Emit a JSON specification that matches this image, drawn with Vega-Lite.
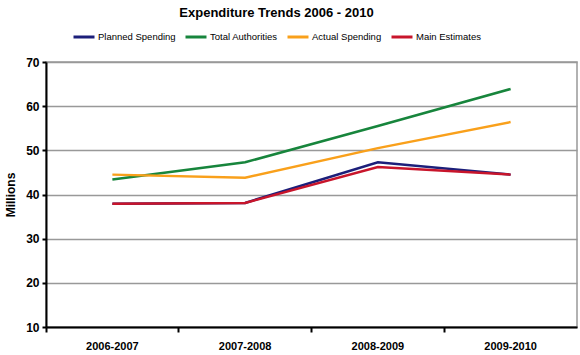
{
  "$schema": "https://vega.github.io/schema/vega-lite/v6.json",
  "autosize": "none",
  "width": 531,
  "height": 265,
  "padding": {"left": 46, "top": 62, "right": 3, "bottom": 28},
  "background": "white",
  "config": {
    "font": "Liberation Sans",
    "view": {"stroke": "#999999", "strokeWidth": 1.5}
  },
  "title": {
    "text": "Expenditure Trends 2006 - 2010",
    "font": "Liberation Sans",
    "fontSize": 13,
    "fontWeight": "bold",
    "color": "#000000",
    "anchor": "middle",
    "dx": -35,
    "offset": 5
  },
  "data": {
    "values": [
      {"period": "2006-2007", "series": "Planned Spending", "value": 37.9},
      {"period": "2007-2008", "series": "Planned Spending", "value": 38.1},
      {"period": "2008-2009", "series": "Planned Spending", "value": 47.3},
      {"period": "2009-2010", "series": "Planned Spending", "value": 44.5},
      {"period": "2006-2007", "series": "Total Authorities", "value": 43.4},
      {"period": "2007-2008", "series": "Total Authorities", "value": 47.3},
      {"period": "2008-2009", "series": "Total Authorities", "value": 55.5},
      {"period": "2009-2010", "series": "Total Authorities", "value": 63.9},
      {"period": "2006-2007", "series": "Actual Spending", "value": 44.5},
      {"period": "2007-2008", "series": "Actual Spending", "value": 43.8},
      {"period": "2008-2009", "series": "Actual Spending", "value": 50.5},
      {"period": "2009-2010", "series": "Actual Spending", "value": 56.4},
      {"period": "2006-2007", "series": "Main Estimates", "value": 37.9},
      {"period": "2007-2008", "series": "Main Estimates", "value": 38.1},
      {"period": "2008-2009", "series": "Main Estimates", "value": 46.2},
      {"period": "2009-2010", "series": "Main Estimates", "value": 44.5}
    ]
  },
  "mark": {"type": "line", "strokeWidth": 2.5},
  "encoding": {
    "x": {
      "field": "period",
      "type": "ordinal",
      "scale": {"type": "band", "paddingInner": 0, "paddingOuter": 0},
      "axis": {
        "title": null,
        "labelAngle": 0,
        "labelFontWeight": "bold",
        "labelFontSize": 11,
        "labelColor": "#000000",
        "labelPadding": 8,
        "bandPosition": 0,
        "tickColor": "#000000",
        "tickSize": 5,
        "tickWidth": 2,
        "domainColor": "#000000",
        "domainWidth": 2,
        "grid": false
      }
    },
    "y": {
      "field": "value",
      "type": "quantitative",
      "scale": {"domain": [10, 70], "nice": false, "zero": false},
      "axis": {
        "title": "Millions",
        "titleFontWeight": "bold",
        "titleFontSize": 12,
        "titleColor": "#000000",
        "titlePadding": 8,
        "values": [10, 20, 30, 40, 50, 60, 70],
        "labelFontWeight": "bold",
        "labelFontSize": 12,
        "labelColor": "#000000",
        "labelPadding": 3,
        "tickColor": "#000000",
        "tickSize": 4,
        "tickWidth": 2,
        "domainColor": "#000000",
        "domainWidth": 2,
        "gridColor": "#999999",
        "gridWidth": 1.5
      }
    },
    "color": {
      "field": "series",
      "type": "nominal",
      "sort": ["Planned Spending", "Total Authorities", "Actual Spending", "Main Estimates"],
      "scale": {
        "domain": ["Planned Spending", "Total Authorities", "Actual Spending", "Main Estimates"],
        "range": ["#1c1f7a", "#17853c", "#f9a01b", "#c8152b"]
      },
      "legend": {
        "title": null,
        "orient": "none",
        "direction": "horizontal",
        "legendX": 26,
        "legendY": -37,
        "symbolType": "stroke",
        "symbolSize": 441,
        "symbolStrokeWidth": 3,
        "labelFontSize": 9.5,
        "labelColor": "#000000",
        "labelOffset": 2,
        "columnPadding": 3
      }
    },
    "order": {"field": "series"}
  }
}
